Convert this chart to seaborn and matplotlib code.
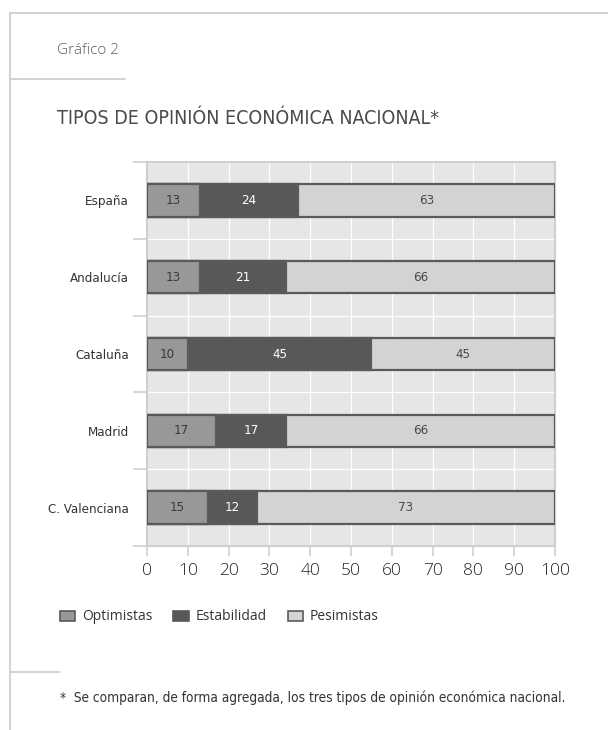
# -*- coding: utf-8 -*-
# Gráfico 2: tipos de opinión económica nacional (barras apiladas horizontales)

import numpy as np
import pandas as pd
import matplotlib
matplotlib.use('Agg')
import matplotlib.pyplot as plt
from matplotlib.patches import Patch
from matplotlib.lines import Line2D
import seaborn as sns

# Datos
regiones = ['España', 'Andalucía', 'Cataluña', 'Madrid', 'C. Valenciana']
optimistas = [13, 13, 10, 17, 15]
estabilidad = [24, 21, 45, 17, 12]
pesimistas = [63, 66, 45, 66, 73]
series = ['Optimistas', 'Estabilidad', 'Pesimistas']
ticks_x = [0, 10, 20, 30, 40, 50, 60, 70, 80, 90, 100]

# Colores
colores = {'Optimistas': '#98989b', 'Estabilidad': '#58585b', 'Pesimistas': '#d3d3d4'}
color_texto = {'Optimistas': '#3a3a3a', 'Estabilidad': '#ffffff', 'Pesimistas': '#4a4a4a'}
borde = '#5a5a5c'
gris_marco = '#cfcfcf'

sns.set_theme(style='white')
plt.rcParams['font.family'] = ['Open Sans', 'DejaVu Sans']
# fuente estrecha para título, categorías y etiquetas
narrow = dict(family=['DejaVu Sans'], fontstretch='condensed')

# Tabla con los valores acumulados
df = pd.DataFrame({'region': regiones, 'Optimistas': optimistas,
                   'Estabilidad': estabilidad, 'Pesimistas': pesimistas})
df['inicio_Optimistas'] = 0
df['inicio_Estabilidad'] = df['Optimistas']
df['inicio_Pesimistas'] = df['Optimistas'] + df['Estabilidad']

fig = plt.figure(figsize=(6.08, 7.30), dpi=100)
ax = fig.add_axes([147 / 608, 1 - 546 / 730, 408 / 608, 384 / 730])
ax.set_facecolor('#e6e6e7')

# Se dibujan de la barra más larga a la más corta para simular el apilado
for s in reversed(series):
    df['fin'] = df['inicio_' + s] + df[s]
    sns.barplot(data=df, x='fin', y='region', orient='h', color=colores[s],
                width=0.42, edgecolor=borde, linewidth=1.6, saturation=1,
                ax=ax, zorder=3)

# Etiquetas dentro de las barras
for s in series:
    for i, (ini, v) in enumerate(zip(df['inicio_' + s], df[s])):
        ax.text(ini + v / 2, i, str(v), ha='center', va='center',
                fontsize=9.5, color=color_texto[s], zorder=5, **narrow)

# Ejes
ax.set_xlim(0, 100)
ax.set_ylim(len(regiones) - 0.5, -0.5)
ax.set_xticks(ticks_x)
ax.set_xticklabels([str(t) for t in ticks_x], fontsize=12.5, color='#222222',
                   fontweight='light')
ax.set_yticks(np.arange(-0.5, len(regiones), 1))
ax.set_yticklabels([])
ax.set_yticks(range(len(regiones)), minor=True)
ax.set_yticklabels(regiones, minor=True, fontsize=9.5, color='#333333', **narrow)
ax.tick_params(axis='y', which='minor', length=0, pad=13)
ax.tick_params(axis='y', which='major', length=10, width=1.2, color=gris_marco, left=True)
ax.tick_params(axis='x', length=7, width=1.2, color=gris_marco, bottom=True, pad=5)
ax.set_xlabel('')
ax.set_ylabel('')

ax.grid(True, which='major', color='white', linewidth=0.9, zorder=0)
ax.set_axisbelow(True)
for sp in ax.spines.values():
    sp.set_visible(True)
    sp.set_color(gris_marco)
    sp.set_linewidth(1.5)

# Leyenda
handles = [Patch(facecolor=colores[s], edgecolor=borde, linewidth=1.2) for s in series]
fig.legend(handles, series, loc='center left', bbox_to_anchor=(0.078, 1 - 617 / 730),
           ncol=3, frameon=False, fontsize=10, handlelength=1.1, handleheight=0.75,
           handletextpad=0.5, columnspacing=1.5, labelcolor='#333333')

# Textos
fig.text(57 / 608, 1 - 50 / 730, 'Gráfico 2', fontsize=11, color='#5e5e5e',
         va='center', ha='left', fontweight='light')
fig.text(57 / 608, 1 - 118 / 730, 'TIPOS DE OPINIÓN ECONÓMICA NACIONAL*', fontsize=14,
         color='#4a4a4a', va='center', ha='left', **narrow)
fig.text(60 / 608, 1 - 698 / 730,
         '*  Se comparan, de forma agregada, los tres tipos de opinión económica nacional.',
         fontsize=9.8, color='#333333', va='center', ha='left', **narrow)

# Marco
lw = 1.3
fig.add_artist(Line2D([10 / 608, 1], [1 - 13 / 730, 1 - 13 / 730], color=gris_marco, lw=lw))
fig.add_artist(Line2D([10 / 608, 10 / 608], [0, 1 - 13 / 730], color=gris_marco, lw=lw))
fig.add_artist(Line2D([10 / 608, 125 / 608], [1 - 79 / 730, 1 - 79 / 730], color=gris_marco, lw=lw))
fig.add_artist(Line2D([10 / 608, 60 / 608], [1 - 672 / 730, 1 - 672 / 730], color=gris_marco, lw=lw))

fig.savefig('out.png', dpi=100, facecolor='white')
